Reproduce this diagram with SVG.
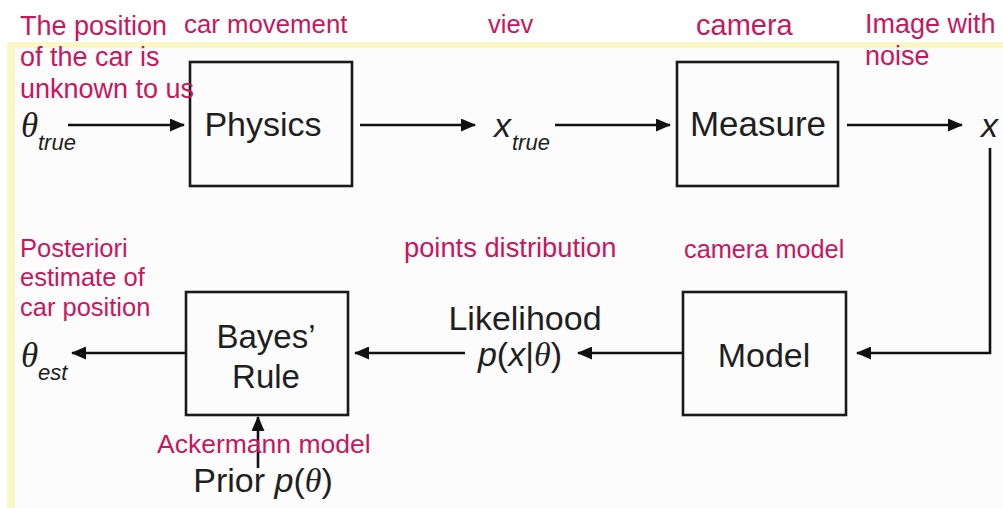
<svg xmlns="http://www.w3.org/2000/svg" width="1003" height="508" viewBox="0 0 1003 508">
<defs>
<marker id="ah" markerWidth="15" markerHeight="13" refX="14" refY="6.5" orient="auto" markerUnits="userSpaceOnUse">
<path d="M0,0 L15,6.5 L0,13 Z" fill="#111"/>
</marker>
<style>
.box{fill:none;stroke:#1a1a1a;stroke-width:2.6}
.lbl{font-family:"Liberation Sans",Arial,sans-serif;fill:#1f1f1f}
.mag{font-family:"Liberation Sans",Arial,sans-serif;fill:#c8175d}
.th{font-family:"Liberation Serif","Times New Roman",serif;font-style:italic;fill:#1f1f1f}
.it{font-family:"Liberation Sans",Arial,sans-serif;font-style:italic;fill:#1f1f1f}
.con{fill:none;stroke:#111;stroke-width:2.6;marker-end:url(#ah)}
</style>
</defs>
<rect x="0" y="0" width="1003" height="508" fill="#ffffff"/>
<rect x="8" y="42" width="995" height="466" fill="#fdfcfc"/>
<rect x="8" y="42" width="995" height="6" fill="#fbf8c8"/>
<rect x="7" y="42" width="8" height="466" fill="#fbf8c8"/>

<g id="connectors">
<line class="con" x1="68" y1="125" x2="184" y2="125"/>
<line class="con" x1="360" y1="125" x2="475" y2="125"/>
<line class="con" x1="555" y1="125" x2="670" y2="125"/>
<line class="con" x1="847" y1="125" x2="962" y2="125"/>
<polyline class="con" points="990,148 990,353 857,353"/>
<line class="con" x1="682" y1="353" x2="578" y2="353"/>
<line class="con" x1="465" y1="353" x2="355" y2="353"/>
<line class="con" x1="185" y1="353" x2="72" y2="353"/>
<line class="con" x1="258" y1="468" x2="258" y2="417"/>
</g>

<g id="physics">
<rect class="box" x="190" y="62" width="162" height="124"/>
<text class="lbl" x="263" y="136" font-size="34" text-anchor="middle">Physics</text>
</g>
<g id="measure">
<rect class="box" x="677" y="62" width="161" height="124"/>
<text class="lbl" x="758" y="136" font-size="35" text-anchor="middle">Measure</text>
</g>
<g id="model">
<rect class="box" x="683" y="292" width="163" height="123"/>
<text class="lbl" x="764" y="367" font-size="34" text-anchor="middle">Model</text>
</g>
<g id="bayes">
<rect class="box" x="186" y="292" width="162" height="123"/>
<text class="lbl" x="266" y="348" font-size="33" text-anchor="middle">Bayes’</text>
<text class="lbl" x="266" y="388" font-size="33" text-anchor="middle">Rule</text>
</g>

<g id="theta-true">
<text class="th" x="21" y="137" font-size="35">θ</text>
<text class="it" x="38" y="150" font-size="22">true</text>
</g>
<g id="x-true">
<text class="it" x="494" y="137" font-size="34">x</text>
<text class="it" x="512" y="150" font-size="22">true</text>
</g>
<g id="x-out">
<text class="it" x="981" y="137" font-size="34">x</text>
</g>
<g id="likelihood">
<text class="lbl" x="525" y="330" font-size="34" text-anchor="middle">Likelihood</text>
<text x="520" y="366" font-size="34" text-anchor="middle"><tspan class="it">p</tspan><tspan class="lbl">(</tspan><tspan class="it">x</tspan><tspan class="lbl">|</tspan><tspan class="th">θ</tspan><tspan class="lbl">)</tspan></text>
</g>
<g id="theta-est">
<text class="th" x="21" y="367" font-size="35">θ</text>
<text class="it" x="38" y="380" font-size="22">est</text>
</g>
<g id="prior">
<text x="263" y="492" font-size="34" text-anchor="middle"><tspan class="lbl">Prior </tspan><tspan class="it">p</tspan><tspan class="lbl">(</tspan><tspan class="th">θ</tspan><tspan class="lbl">)</tspan></text>
</g>

<g id="annotations">
<text class="mag" x="20" y="35" font-size="27">The position</text>
<text class="mag" x="20" y="66" font-size="27">of the car is</text>
<text class="mag" x="20" y="98" font-size="27">unknown to us</text>
<text class="mag" x="184" y="33" font-size="25.8">car movement</text>
<text class="mag" x="488" y="33" font-size="25.5">viev</text>
<text class="mag" x="696" y="35" font-size="29">camera</text>
<text class="mag" x="865" y="33" font-size="27">Image with</text>
<text class="mag" x="865" y="65" font-size="27">noise</text>
<text class="mag" x="20" y="257" font-size="25.5">Posteriori</text>
<text class="mag" x="20" y="286" font-size="25.5">estimate of</text>
<text class="mag" x="20" y="316" font-size="25.5">car position</text>
<text class="mag" x="404" y="257" font-size="27.3">points distribution</text>
<text class="mag" x="684" y="258" font-size="25.3">camera model</text>
<text class="mag" x="157" y="453" font-size="26.5">Ackermann model</text>
</g>
</svg>
